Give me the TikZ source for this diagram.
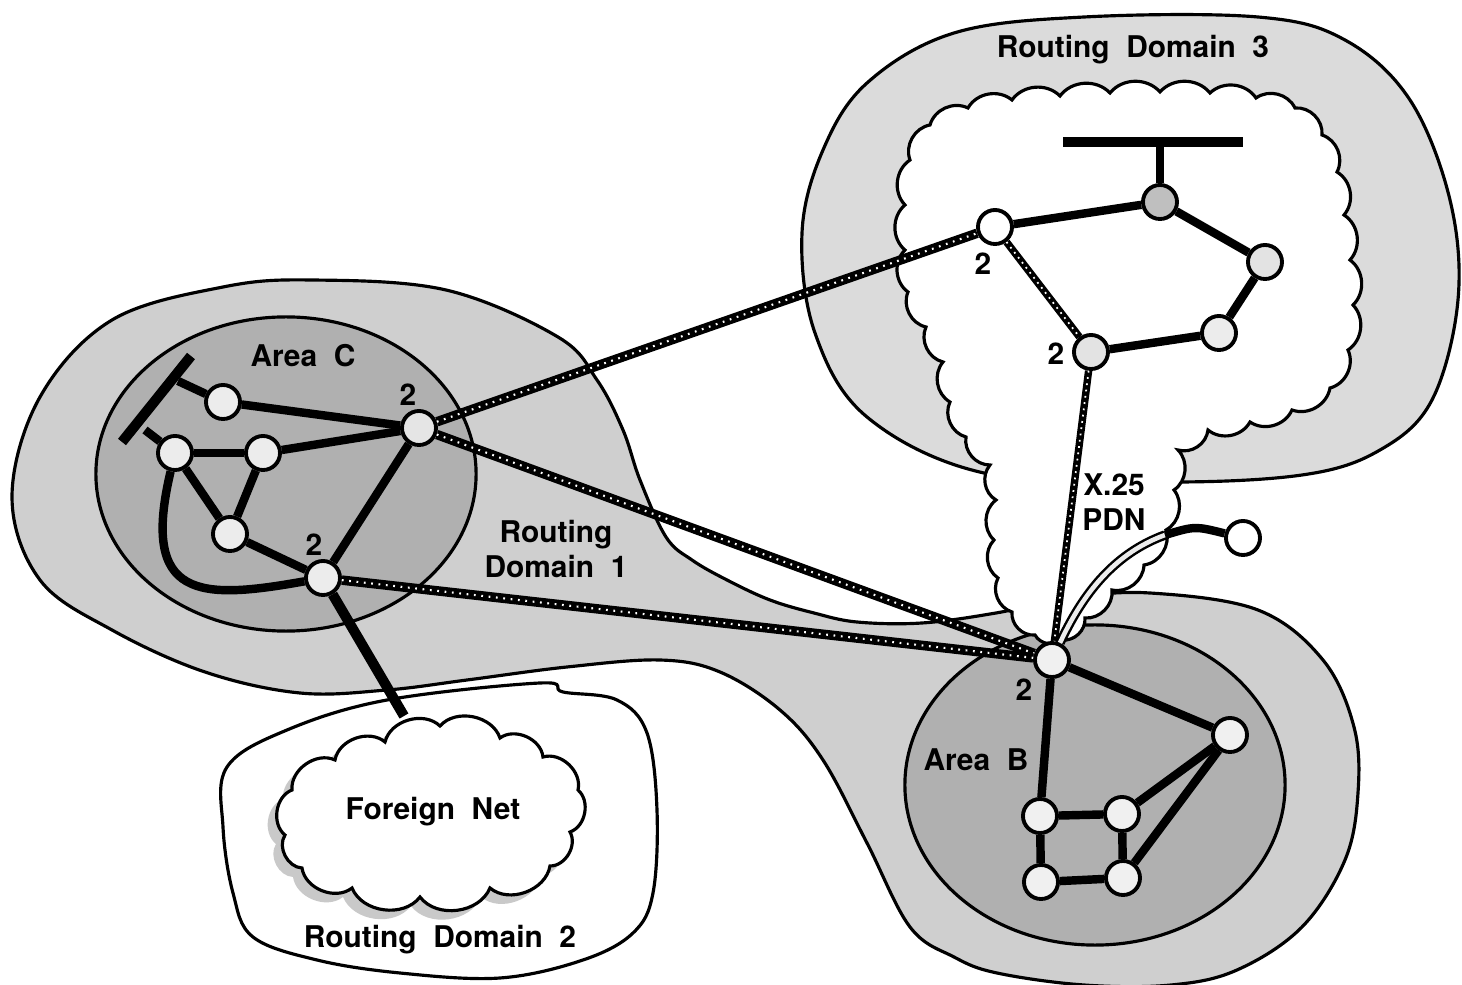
\documentclass[tikz,border=0pt]{standalone}
\usepackage{fontspec}
\setmainfont{TeX Gyre Heros}

\tikzset{
	rtr/.style={circle,draw,line width=1.1pt,fill=white,minimum size=0.34cm,inner sep=0pt},
	lan/.style={line width=2.4pt},
	bus/.style={line width=2.9pt},
	wan/.style={line width=2.7pt,postaction={draw=white,line width=0.6pt,dash pattern=on 0.5pt off 1.6pt}},
	thinwan/.style={line width=2.1pt,postaction={draw=white,line width=0.5pt,dash pattern=on 0.5pt off 1.3pt}},
	lbl/.style={font=\bfseries\fontsize{8.5}{10}\selectfont,align=center,inner sep=0pt},
	lobes/.style={every to/.style={bend left=#1}},
	region/.style={line width=0.9pt},
}
\newcommand{\foreignpath}{(285,835) to (292,790) to (335,760) to (385,742) to (440,726)
	to (500,738) to (543,757) to (578,790) to (570,832) to (550,866) to (490,888)
	to (420,897) to (352,888) to (302,868) to (285,835) -- cycle}

\begin{document}
\begin{tikzpicture}[x=0.01cm,y=-0.01cm]
	\useasboundingbox (0,0) rectangle (1462,985);
	% routing domain 1
	\filldraw[region,fill=gray!38] plot[smooth cycle,tension=0.6] coordinates {
		(12,497) (40,397) (112,320) (223,287) (312,280) (446,290) (558,337) (597,380)
		(623,430) (640,480) (666,537) (692,560) (727,580) (770,600) (814,613) (857,622)
		(922,623) (996,613) (1070,598) (1150,593) (1258,610) (1323,660) (1354,727)
		(1358,793) (1345,860) (1302,927) (1237,970) (1171,985) (1084,985) (997,973)
		(954,957) (910,927) (867,843) (823,760) (780,710) (720,672) (660,660) (567,667)
		(467,680) (387,690) (300,693) (205,672) (112,630) (40,580)};
	\filldraw[region,fill=gray!62] (286,474) ellipse [x radius=1.9cm,y radius=1.57cm];
	\filldraw[region,fill=gray!62] (1095,785) ellipse [x radius=1.9cm,y radius=1.6cm];
	% routing domain 2
	\filldraw[region,fill=white] plot[smooth cycle,tension=0.6] coordinates {
		(227,767) (287,730) (387,700) (540,683) (563,692) (617,700) (647,733) (657,810)
		(653,893) (633,933) (583,960) (500,978) (400,973) (317,960) (253,937) (233,893)
		(223,827)};
	% routing domain 3 and the X.25 PDN
	\filldraw[region,fill=gray!28] plot[smooth cycle,tension=0.6] coordinates {
		(954,33) (1084,17) (1258,17) (1345,40) (1410,100) (1450,200) (1458,300)
		(1432,400) (1380,450) (1302,475) (1158,482) (984,473) (867,417) (815,333)
		(802,233) (823,150) (867,83)};
	\filldraw[region,fill=white,lobes=50] (910,160) to (930,125) to (968,108) to (1012,100)
		to (1060,96) to (1110,93) to (1160,92) to (1210,93) to (1256,98) to (1295,108)
		to (1322,135) to (1337,172) to (1344,215) to (1350,260) to (1353,305) to (1348,350)
		to (1330,388) to (1292,410) to (1250,422) to (1208,430) to (1178,450) to (1174,490)
		to (1166,530) to (1144,565) to (1112,590) to (1085,618) to (1062,640) to (1035,635)
		to (1012,612) to (998,578) to (994,540) to (996,500) to (990,465) to (966,437)
		to (950,402) to (943,362) to (926,327) to (908,292) to (905,250) to (905,205)
		to (910,160) -- cycle;
	% foreign net
	\fill[gray!42,lobes=60,shift={(-9,9)}] \foreignpath;
	\filldraw[region,fill=white,lobes=60] \foreignpath;
	\coordinate (fntop) at (404,716);

	% area C
	\node[rtr,fill=gray!15] (c1) at (223,402) {};
	\node[rtr,fill=gray!15] (c2) at (175,453) {};
	\node[rtr,fill=gray!15] (c3) at (263,453) {};
	\node[rtr,fill=gray!15] (c4) at (230,534) {};
	\node[rtr,fill=gray!20] (r1) at (419,428) {};
	\node[rtr,fill=gray!15] (r2) at (323,578) {};
	\draw[bus] (122,442) -- (191,356);
	\draw[lan] (145,430) -- (c2);
	\draw[lan] (178,381) -- (c1);
	\draw[lan] (c1) -- (r1);
	\draw[lan] (c2) -- (c3);
	\draw[lan] (c3) -- (r1);
	\draw[lan] (c2) -- (c4);
	\draw[lan] (c3) -- (c4);
	\draw[lan] (c4) -- (r2);
	\draw[lan] (r1) -- (r2);
	\draw[lan] (c2) .. controls (140,600) and (200,600) .. (r2);

	% routing domain 3
	\node[rtr] (d1) at (995,227) {};
	\node[rtr,fill=gray!50] (d0) at (1160,202) {};
	\node[rtr,fill=gray!22] (d3) at (1265,262) {};
	\node[rtr,fill=gray!15] (d4) at (1219,333) {};
	\node[rtr,fill=gray!22] (d2) at (1091,352) {};
	\draw[bus] (1063,142) -- (1243,142);
	\draw[line width=2.2pt] (1160,142) -- (d0);
	\draw[lan] (d1) -- (d0);
	\draw[lan] (d0) -- (d3);
	\draw[lan] (d3) -- (d4);
	\draw[lan] (d4) -- (d2);
	\draw[thinwan] (d1) -- (d2);

	% area B
	\node[rtr,fill=gray!12] (b0) at (1052,660) {};
	\node[rtr,fill=gray!12] (b1) at (1230,735) {};
	\node[rtr,fill=gray!12] (b2) at (1040,816) {};
	\node[rtr,fill=gray!12] (b3) at (1122,814) {};
	\node[rtr,fill=gray!12] (b4) at (1041,882) {};
	\node[rtr,fill=gray!12] (b5) at (1123,878) {};
	\draw[lan] (b0) -- (b2);
	\draw[lan] (b0) -- (b1);
	\draw[lan] (b1) -- (b3);
	\draw[lan] (b1) -- (b5);
	\draw[lan] (b2) -- (b3);
	\draw[lan] (b2) -- (b4);
	\draw[lan] (b3) -- (b5);
	\draw[lan] (b4) -- (b5);

	% links between the domains
	\draw[wan] (r1) -- (d1);
	\draw[wan] (r1) -- (b0);
	\draw[wan] (r2) -- (b0);
	\draw[thinwan] (d2) -- (b0);
	\draw[line width=2.9pt] (r2) -- (fntop);
	\node[rtr] (e) at (1243,538) {};
	\coordinate (ebend) at (1165,535);
	\draw[draw=black,line width=0.7pt,double=gray!15,double distance=1.3pt] (b0) .. controls (1080,600) and (1110,555) .. (ebend);
	\draw[lan] (ebend) .. controls (1195,526) .. (e);

	% labels
	\node[lbl] at (408,395) {2};
	\node[lbl] at (314,545) {2};
	\node[lbl] at (983,264) {2};
	\node[lbl] at (1056,354) {2};
	\node[lbl] at (1024,690) {2};
	\node[lbl] at (303,356) {Area\ \ C};
	\node[lbl] at (976,760) {Area\ \ B};
	\node[lbl] at (556,549) {Routing\\Domain\ \ 1};
	\node[lbl] at (1133,50) {Routing\ \ Domain\ \ 3};
	\node[lbl] at (433,812) {Foreign\ \ Net};
	\node[lbl] at (440,940) {Routing\ \ Domain\ \ 2};
	\node[lbl] at (1114,502) {X.25\\PDN};
\end{tikzpicture}
\end{document}
